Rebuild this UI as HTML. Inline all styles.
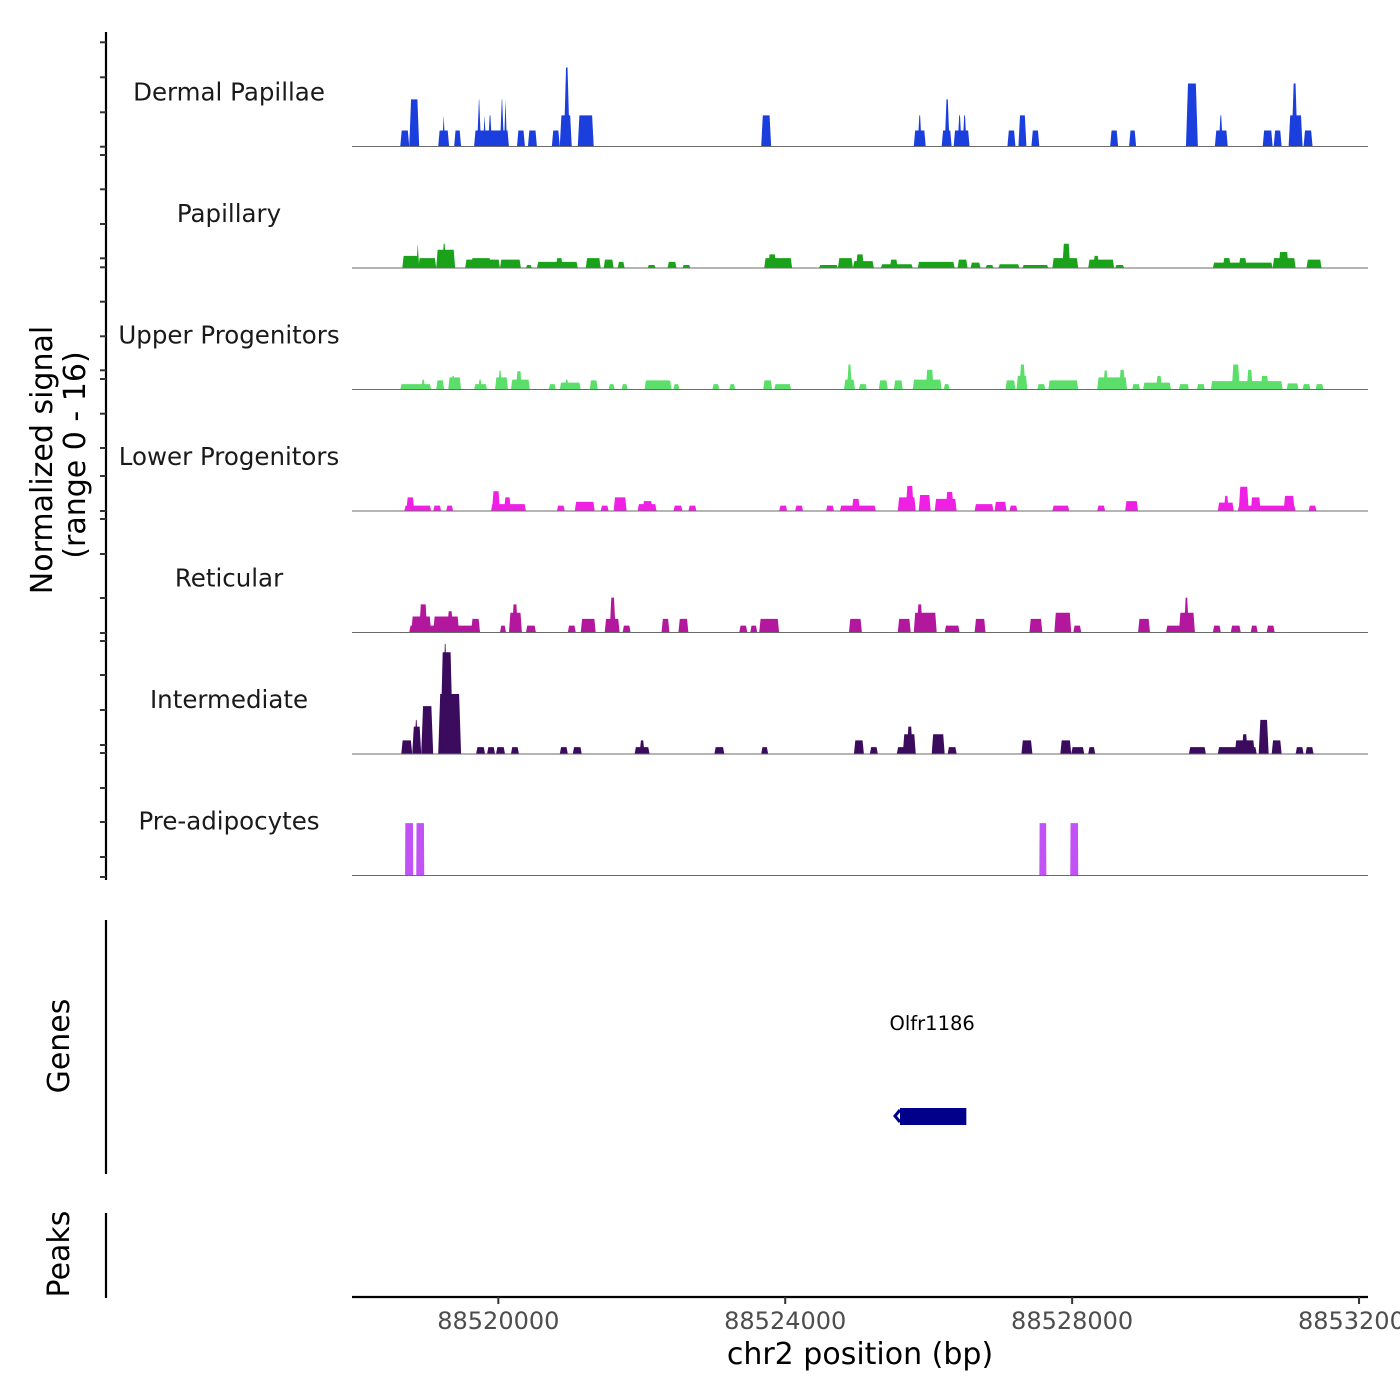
<!DOCTYPE html>
<html><head><meta charset="utf-8"><style>
html,body{margin:0;padding:0;background:#fff;}
svg{display:block;font-family:"DejaVu Sans","Liberation Sans",sans-serif;}
</style></head><body>
<svg id="chart" width="1400" height="1400" viewBox="0 0 1400 1400">
<g><line x1="106" y1="32" x2="106" y2="880" stroke="#000" stroke-width="2.2"/><g id="yticks"></g></g>
<text transform="translate(52,460) rotate(-90)" text-anchor="middle" font-size="30">Normalized signal</text>
<text transform="translate(85,455) rotate(-90)" text-anchor="middle" font-size="30">(range 0 - 16)</text>
<line x1="106" y1="920" x2="106" y2="1174" stroke="#000" stroke-width="2.2"/>
<text transform="translate(69,1046) rotate(-90)" text-anchor="middle" font-size="30">Genes</text>
<line x1="106" y1="1213" x2="106" y2="1298" stroke="#000" stroke-width="2.2"/>
<text transform="translate(69,1254) rotate(-90)" text-anchor="middle" font-size="30">Peaks</text>
<g id="tracks"></g>
<g id="genes"></g>
<g><line x1="352" y1="1297" x2="1368" y2="1297" stroke="#000" stroke-width="2.2"/><g id="xticks"></g></g>
<text x="860" y="1364" text-anchor="middle" font-size="30">chr2 position (bp)</text>
</svg>
<script>
const START = 88517980;
const trackNames = ["Dermal Papillae","Papillary","Upper Progenitors","Lower Progenitors","Reticular","Intermediate","Pre-adipocytes"];
const trackColors = ["#1a3fdd","#1aa31a","#5bdf6a","#ef1fe4","#b3179e","#3b0b5e","#c152f5"];
const xTicks = [88520000,88524000,88528000,88532000];
// [startOffset, endOffset, value] per track (offsets in bp from START)
const dermal = [[653,778,2.1],[778,917,6.2],[1182,1334,2.1],[1237,1279,4.1],[1404,1501,2.1],[1682,2168,2.1],[1724,1779,6.2],[1807,1849,4.1],[1877,1932,4.1],[2043,2099,6.2],[2099,2141,6.2],[2280,2391,2.1],[2433,2558,2.1],[2766,2877,2.1],[2877,3044,4.1],[2933,3016,10.4],[3128,3350,4.1],[5685,5824,4.1],[7812,7979,2.1],[7867,7923,4.1],[8201,8340,2.1],[8243,8312,6.2],[8368,8590,2.1],[8423,8479,4.1],[8493,8549,4.1],[9118,9230,2.1],[9271,9383,4.1],[9452,9563,2.1],[10550,10661,2.1],[10814,10912,2.1],[11634,11746,4.1],[11607,11773,8.3],[12010,12190,2.1],[12065,12121,4.1],[12677,12816,2.1],[12830,12941,2.1],[13038,13233,4.1],[13080,13163,8.3],[13247,13372,2.1]];
const papillary = [[681,904,1.6],[876,917,3.2],[904,1154,1.3],[1154,1418,2.4],[1237,1293,3.2],[1557,2043,1.1],[1640,1918,1.3],[2043,2335,1.1],[2405,2488,0.4],[2558,3128,0.8],[2822,2919,1.3],[3239,3447,1.3],[3489,3628,1.1],[3684,3781,0.8],[4101,4212,0.4],[4379,4504,0.8],[4587,4698,0.4],[5727,6116,1.3],[5782,5894,1.8],[6491,6755,0.4],[6755,6964,1.3],[6964,7256,0.9],[7006,7117,1.8],[7353,7798,0.5],[7478,7589,1.1],[7867,8382,0.8],[8423,8562,1.1],[8604,8743,0.7],[8813,8924,0.4],[8993,9285,0.5],[9327,9688,0.4],[9744,10105,1.3],[9883,9994,3.2],[10244,10606,1.1],[10314,10397,1.6],[10620,10745,0.4],[11982,12816,0.7],[12121,12232,1.3],[12343,12454,1.3],[12816,13136,1.3],[12899,13038,2.1],[13288,13497,1.1]];
const upper = [[653,1084,0.7],[945,1001,1.3],[1154,1265,1.2],[1321,1501,1.6],[1362,1418,1.8],[1682,1863,0.7],[1738,1793,1.3],[1974,2155,1.6],[2016,2071,2.5],[2196,2460,1.3],[2266,2349,2.4],[2724,2822,0.7],[2877,3169,0.9],[2947,3002,1.3],[3294,3406,1.2],[3558,3642,0.7],[3739,3823,0.7],[4059,4434,1.2],[4462,4545,0.7],[5004,5101,0.7],[5240,5324,0.7],[5713,5838,1.2],[5866,6102,0.7],[6839,6992,1.3],[6881,6950,3.3],[7047,7159,0.7],[7325,7450,1.2],[7534,7659,1.2],[7798,8201,1.3],[7979,8090,2.6],[8229,8312,0.7],[9091,9230,1.2],[9244,9396,1.8],[9285,9369,3.3],[9535,9647,0.7],[9688,10105,1.2],[10369,10786,1.6],[10453,10522,2.5],[10675,10759,2.6],[10856,10967,0.7],[11009,11398,0.9],[11190,11273,1.8],[11509,11648,0.7],[11759,11871,0.7],[11954,12955,1.1],[12246,12357,3.3],[12454,12538,2.6],[12649,12760,1.8],[13010,13177,0.8],[13233,13344,0.7],[13414,13525,0.7]];
const lower = [[709,1084,0.7],[737,848,1.8],[1112,1223,0.7],[1293,1390,0.7],[1918,2405,0.9],[1932,2043,2.6],[2099,2196,1.8],[2836,2947,0.7],[3086,3364,1.2],[3447,3558,0.7],[3628,3809,1.8],[3962,4226,0.9],[4031,4170,1.3],[4462,4587,0.7],[4670,4782,0.7],[5935,6047,0.7],[6158,6269,0.7],[6589,6700,0.7],[6783,7284,0.7],[6950,7061,1.6],[7589,7840,1.8],[7701,7812,3.3],[7881,8048,2.1],[8104,8410,1.6],[8257,8368,2.5],[8660,8924,0.9],[8938,9105,1.2],[9146,9257,0.7],[9744,9980,0.7],[10369,10481,0.7],[10759,10939,1.3],[12051,12274,1.1],[12135,12204,2.0],[12329,13136,0.7],[12343,12482,3.2],[12510,12649,1.8],[12969,13122,2.0],[13316,13427,0.7]];
const reticular = [[778,1765,0.9],[806,1084,2.1],[917,1029,3.7],[1112,1473,2.1],[1307,1390,2.8],[1640,1765,1.8],[2043,2127,0.9],[2168,2349,2.6],[2210,2294,3.7],[2405,2544,0.9],[2989,3100,0.9],[3169,3378,1.8],[3503,3711,1.8],[3572,3656,4.6],[3753,3864,0.9],[4295,4406,1.8],[4531,4670,1.8],[5379,5491,0.9],[5532,5630,0.9],[5657,5935,1.8],[6908,7089,1.8],[7589,7770,1.8],[7812,8132,2.6],[7854,7937,3.7],[8243,8451,0.9],[8660,8813,1.8],[9424,9605,1.8],[9772,10008,2.6],[10036,10147,0.9],[10939,11106,1.8],[11329,11732,0.9],[11509,11732,2.6],[11579,11648,4.6],[11982,12093,0.9],[12232,12371,0.9],[12510,12607,0.9],[12732,12844,0.9]];
const intermediate = [[667,820,1.8],[820,945,3.6],[848,904,4.5],[945,1112,6.3],[1182,1501,7.9],[1209,1390,13.4],[1237,1321,14.5],[1710,1835,0.9],[1863,1974,0.9],[1988,2113,0.9],[2196,2307,0.9],[2877,2989,0.9],[3058,3183,0.9],[3920,4128,0.9],[3989,4059,1.8],[5032,5171,0.9],[5685,5782,0.9],[6978,7117,1.8],[7200,7311,0.9],[7576,7840,0.9],[7659,7840,2.6],[7715,7798,3.6],[8062,8243,2.6],[8284,8410,0.9],[9313,9466,1.8],[9855,10008,1.8],[10008,10189,0.9],[10244,10342,0.9],[11648,11885,0.9],[12051,12593,0.9],[12288,12566,1.8],[12385,12468,2.6],[12621,12760,4.5],[12802,12941,1.8],[13136,13247,0.9],[13274,13386,0.9]];
const preadipocytes = [[720,834,6.9],[876,987,6.9],[9563,9661,6.9],[9994,10105,6.9]];
const geneNames = ["Olfr1186"];
const geneStarts = [88525600];
const geneEnds = [88526525];
const yTickPositions = [42.3,77.3,112.3,146.7,155,189.3,224,258.3,267.3,301.7,336.3,370.3,379,413.7,448,476,511,519,554,598,633,641,675,710,745,753,788,822,857,877];

const trackData = [dermal,papillary,upper,lower,reticular,intermediate,preadipocytes];
const trackTaperScale = [1,1,1,1,1,1,0.15];
const NS = "http://www.w3.org/2000/svg";
const X0 = 352, X1 = 1368, D0 = 88517960, D1 = 88532125;
function xScale(bp){ return X0 + (bp - D0) / (D1 - D0) * (X1 - X0); }
const PXU = 121.5 / 16;
function baseY(i){ return 146.5 + i * 121.5; }
function yScale(i, v){ return baseY(i) - v * PXU; }

const tracks = document.getElementById('tracks');
trackData.forEach((data, i) => {
  const g = document.createElementNS(NS, 'g');
  
  
  const lbl = document.createElementNS(NS, 'text');
  
  
  lbl.setAttribute('x', 229); lbl.setAttribute('y', baseY(i) - 46);
  lbl.setAttribute('text-anchor', 'middle'); lbl.setAttribute('font-size', '24.5'); lbl.setAttribute('fill', '#1a1a1a');
  lbl.textContent = trackNames[i];
  g.appendChild(lbl);
  data.forEach(d => {
    const s = xScale(START + d[0]), e = xScale(START + d[1]);
    const b = baseY(i), top = yScale(i, d[2]);
    const w = e - s;
    const t = Math.min(w / 2, (1.2 + d[2] * 0.1) * trackTaperScale[i]);
    const p = document.createElementNS(NS, 'polygon');
    
    
    p.setAttribute('points', `${s},${b} ${s + t},${top} ${e - t},${top} ${e},${b}`);
    p.setAttribute('fill', trackColors[i]);
    g.appendChild(p);
  });
  const bl = document.createElementNS(NS, 'line');
  
  
  bl.setAttribute('x1', 352); bl.setAttribute('x2', 1368);
  bl.setAttribute('y1', baseY(i)); bl.setAttribute('y2', baseY(i));
  bl.setAttribute('stroke', '#6b6b6b'); bl.setAttribute('stroke-width', '1.1');
  g.appendChild(bl);
  tracks.appendChild(g);
});

const yt = document.getElementById('yticks');
yTickPositions.forEach(y => {
  const l = document.createElementNS(NS, 'line');
  
  
  l.setAttribute('x1', 100); l.setAttribute('x2', 106);
  l.setAttribute('y1', y); l.setAttribute('y2', y);
  l.setAttribute('stroke', '#333'); l.setAttribute('stroke-width', '2');
  yt.appendChild(l);
});

const xt = document.getElementById('xticks');
xTicks.forEach(v => {
  const x = xScale(v);
  const l = document.createElementNS(NS, 'line');
  
  
  l.setAttribute('x1', x); l.setAttribute('x2', x); l.setAttribute('y1', 1297); l.setAttribute('y2', 1304);
  l.setAttribute('stroke', '#333'); l.setAttribute('stroke-width', '2');
  xt.appendChild(l);
  const t = document.createElementNS(NS, 'text');
  
  
  t.setAttribute('x', x); t.setAttribute('y', 1329);
  t.setAttribute('text-anchor', 'middle'); t.setAttribute('font-size', '24'); t.setAttribute('fill', '#4d4d4d');
  t.textContent = v;
  xt.appendChild(t);
});

const gg = document.getElementById('genes');
geneNames.forEach((n, i) => {
  const s = xScale(geneStarts[i]), e = xScale(geneEnds[i]);
  const r = document.createElementNS(NS, 'rect');
  
  
  r.setAttribute('x', s); r.setAttribute('y', 1108); r.setAttribute('width', e - s); r.setAttribute('height', 17);
  r.setAttribute('fill', '#00008b');
  gg.appendChild(r);
  const a = document.createElementNS(NS, 'path');
  
  
  a.setAttribute('d', `M${s},1110 L${s - 5},1116 L${s},1122`);
  a.setAttribute('stroke', '#00008b'); a.setAttribute('stroke-width', '3'); a.setAttribute('fill', 'none');
  gg.appendChild(a);
  const t = document.createElementNS(NS, 'text');
  
  
  t.setAttribute('x', (s + e) / 2 - 1); t.setAttribute('y', 1030);
  t.setAttribute('text-anchor', 'middle'); t.setAttribute('font-size', '19.5');
  t.textContent = n;
  gg.appendChild(t);
});
</script>
</body></html>
